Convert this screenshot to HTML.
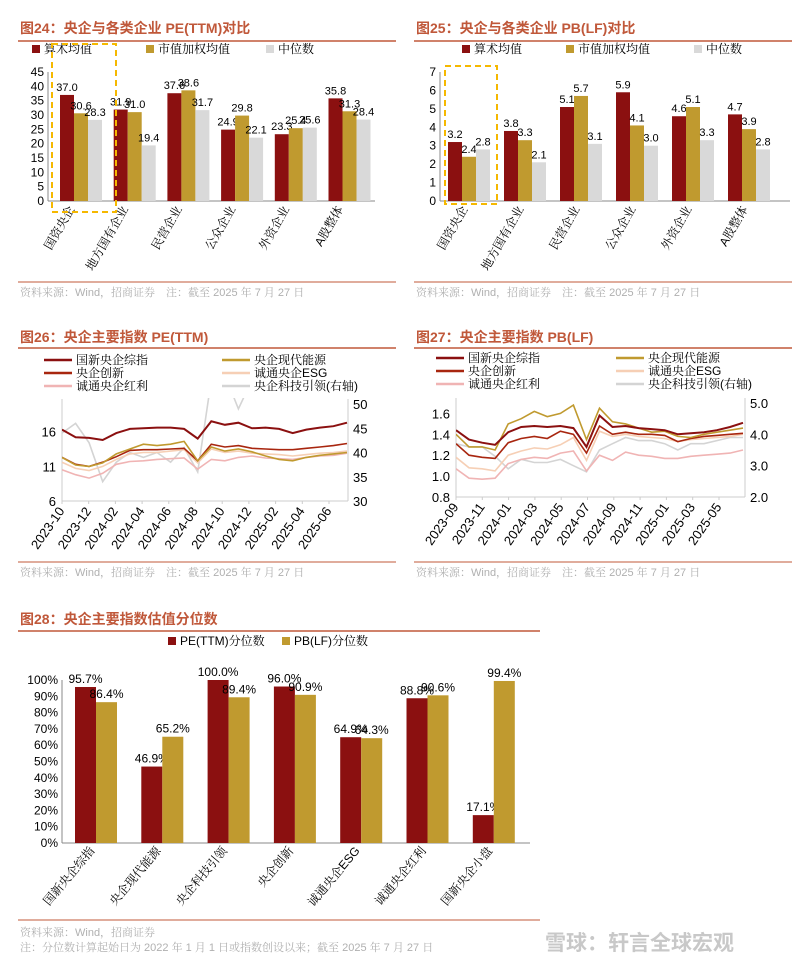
<!DOCTYPE html>
<html><head><meta charset="utf-8">
<style>
body{margin:0;background:#fff;}
svg{display:block;font-family:"Liberation Sans","Noto Sans CJK SC",sans-serif;}
.t{font-size:14px;font-weight:bold;fill:#c0583a;}
.src{font-size:11px;fill:#b0b0b0;font-family:"Liberation Sans","Noto Serif CJK SC",serif;}
.sf{font-family:"Liberation Sans","Noto Serif CJK SC",serif;}
</style></head>
<body>
<svg id="s" width="800" height="965">
<text class="t" x="20" y="33">图24：央企与各类企业 PE(TTM)对比</text>
<line x1="18" y1="41" x2="396" y2="41" stroke="#c0583a" stroke-width="1.5"/>
<text class="t" x="416" y="33">图25：央企与各类企业 PB(LF)对比</text>
<line x1="414" y1="41" x2="792" y2="41" stroke="#c0583a" stroke-width="1.5"/>
<line x1="18" y1="282" x2="396" y2="282" stroke="#c0583a"/>
<text class="src" x="20" y="296">资料来源：Wind，招商证券　注：截至 2025 年 7 月 27 日</text>
<line x1="414" y1="282" x2="792" y2="282" stroke="#c0583a"/>
<text class="src" x="416" y="296">资料来源：Wind，招商证券　注：截至 2025 年 7 月 27 日</text>
<text class="t" x="20" y="342">图26：央企主要指数 PE(TTM)</text>
<line x1="18" y1="348" x2="396" y2="348" stroke="#c0583a" stroke-width="1.5"/>
<text class="t" x="416" y="342">图27：央企主要指数 PB(LF)</text>
<line x1="414" y1="348" x2="792" y2="348" stroke="#c0583a" stroke-width="1.5"/>
<line x1="18" y1="562" x2="396" y2="562" stroke="#c0583a"/>
<text class="src" x="20" y="576">资料来源：Wind，招商证券　注：截至 2025 年 7 月 27 日</text>
<line x1="414" y1="562" x2="792" y2="562" stroke="#c0583a"/>
<text class="src" x="416" y="576">资料来源：Wind，招商证券　注：截至 2025 年 7 月 27 日</text>
<text class="t" x="20" y="624">图28：央企主要指数估值分位数</text>
<line x1="18" y1="631" x2="540" y2="631" stroke="#c0583a" stroke-width="1.5"/>
<line x1="18" y1="920" x2="540" y2="920" stroke="#c0583a"/>
<text class="src" x="20" y="936">资料来源：Wind，招商证券</text>
<text class="src" x="20" y="951">注：分位数计算起始日为 2022 年 1 月 1 日或指数创设以来；截至 2025 年 7 月 27 日</text>
<text x="545" y="950" style="font-size:21px;fill:#c8c8c8;font-weight:bold">雪球：轩言全球宏观</text>
</svg>
<script>
const peCats=["国资央企","地方国有企业","民营企业","公众企业","外资企业","A股整体"];
const peMean=[37.0,31.9,37.6,24.9,23.3,35.8];
const peWeighted=[30.6,31.0,38.6,29.8,25.4,31.3];
const peMedian=[28.3,19.4,31.7,22.1,25.6,28.4];
const peTicks=[0,5,10,15,20,25,30,35,40,45];
const pbCats=["国资央企","地方国有企业","民营企业","公众企业","外资企业","A股整体"];
const pbMean=[3.2,3.8,5.1,5.9,4.6,4.7];
const pbWeighted=[2.4,3.3,5.7,4.1,5.1,3.9];
const pbMedian=[2.8,2.1,3.1,3.0,3.3,2.8];
const pbTicks=[0,1,2,3,4,5,6,7];
const pctCats=["国新央企综指","央企现代能源","央企科技引领","央企创新","诚通央企ESG","诚通央企红利","国新央企小盘"];
const pctPE=[95.7,46.9,100.0,96.0,64.9,88.8,17.1];
const pctPB=[86.4,65.2,89.4,90.9,64.3,90.6,99.4];
const pctTicks=[0,10,20,30,40,50,60,70,80,90,100];
const lineNames=["国新央企综指","央企现代能源","央企创新","诚通央企ESG","诚通央企红利","央企科技引领(右轴)"];
const peDates=["2023-10","2023-12","2024-02","2024-04","2024-06","2024-08","2024-10","2024-12","2025-02","2025-04","2025-06"];
const peZonghe=[16.3,15.2,15.1,14.8,15.8,16.4,16.5,16.6,16.6,16.4,15.0,17.5,17.0,17.3,16.5,16.6,16.4,15.8,16.3,16.6,16.8,17.3];
const peNengyuan=[12.3,11.2,11.0,11.5,12.8,13.5,14.2,14.0,14.2,14.6,11.8,13.8,13.2,13.5,13.1,12.5,12.0,11.8,12.3,12.6,12.8,13.0];
const peChuangxin=[12.3,11.3,11.0,11.6,12.4,13.3,13.4,13.4,13.5,13.6,11.8,14.2,13.8,14.0,13.6,13.5,13.4,13.4,13.6,13.8,14.0,14.3];
const peESG=[11.6,10.7,10.4,11.0,12.0,12.8,13.0,13.0,13.2,13.4,11.5,13.5,13.0,13.2,12.9,12.8,12.7,12.5,12.7,12.9,13.0,13.2];
const peHongli=[10.5,9.8,9.3,10.0,11.3,11.7,11.8,12.0,12.1,12.2,10.6,12.0,11.8,12.3,12.5,12.2,12.1,12.0,12.3,12.5,12.6,12.9];
const peKeji=[44,46,42,34,38,40,39,40,38,41,36,55,56,49,55,56,55,54,56,57,58,58];
const peLeftTicks=[6,11,16];
const peRightTicks=[30,35,40,45,50];
const pbDates=["2023-09","2023-11","2024-01","2024-03","2024-05","2024-07","2024-09","2024-11","2025-01","2025-03","2025-05"];
const pbZonghe=[1.44,1.35,1.32,1.30,1.42,1.47,1.48,1.47,1.48,1.46,1.28,1.58,1.47,1.48,1.46,1.45,1.44,1.40,1.41,1.42,1.44,1.47,1.51];
const pbNengyuan=[1.40,1.28,1.28,1.25,1.50,1.55,1.62,1.57,1.60,1.68,1.35,1.65,1.52,1.50,1.46,1.42,1.43,1.38,1.37,1.40,1.42,1.44,1.46];
const pbChuangxin=[1.31,1.20,1.18,1.17,1.32,1.36,1.38,1.36,1.43,1.40,1.22,1.48,1.40,1.42,1.40,1.40,1.39,1.33,1.36,1.38,1.39,1.40,1.41];
const pbESG=[1.18,1.08,1.07,1.05,1.20,1.24,1.27,1.26,1.30,1.37,1.15,1.43,1.38,1.40,1.38,1.37,1.36,1.33,1.35,1.36,1.37,1.38,1.40];
const pbHongli=[1.07,0.98,0.97,0.98,1.12,1.16,1.18,1.17,1.22,1.24,1.05,1.20,1.15,1.23,1.20,1.19,1.17,1.17,1.19,1.20,1.21,1.22,1.25];
const pbKeji=[3.7,3.6,3.6,3.3,2.9,3.2,3.1,3.1,3.2,3.0,2.8,3.5,3.7,3.9,3.8,3.8,3.7,3.5,3.7,3.7,3.8,3.9,3.9];
const pbLeftTicks=[0.8,1.0,1.2,1.4,1.6];
const pbRightTicks=[2.0,3.0,4.0,5.0];

const NS="http://www.w3.org/2000/svg";const S=document.getElementById('s');
function mk(tag,at,txt){const e=document.createElementNS(NS,tag);for(const k in at)e.setAttribute(k,at[k]);if(txt!==undefined)e.textContent=txt;S.appendChild(e);return e;}
const RED="#8b1010",GOLD="#c09a2f",GRAY="#d9d9d9";

function legendBox(x,y,c,label,nm){
 const r=mk('rect',{x:x,y:y-8,width:8,height:8,fill:c});
 
 
 const t=mk('text',{x:x+12,y:y,'font-size':12,'class':'sf'},label);
 
 
}

function barChart(o){
 const y=v=>o.y0-(v-o.vmin)*o.scale;
 mk('line',{x1:o.x0,y1:o.y0,x2:o.x0,y2:y(o.ticks[o.ticks.length-1]),stroke:"#888"});
 mk('line',{x1:o.x0,y1:o.y0,x2:o.x1,y2:o.y0,stroke:"#888"});
 o.ticks.forEach(t=>{const e=mk('text',{x:o.x0-4,y:y(t)+4,'text-anchor':'end','font-size':o.tf||12},o.fmt(t));
  
  });
 o.cats.forEach((c,i)=>{
  const gx=o.x0+o.gw*i+o.off;
  o.series.forEach((s,j)=>{
   const v=s.vals[i];const bx=gx+j*o.bw;
   const r=mk('rect',{x:bx,y:y(v),width:o.bw,height:o.y0-y(v),fill:s.c});
   
   
   const t=mk('text',{x:bx+o.bw/2,y:y(v)-4,'text-anchor':'middle','font-size':o.lf||11},s.lab(v));
   
   
  });
  const cx=o.x0+o.gw*i+o.gw/2;
  const t=mk('text',{x:cx,y:o.y0+8,'text-anchor':'end','font-size':12,'class':'sf',transform:`rotate(${o.rot} ${cx} ${o.y0+8})`},c);
  
  
 });
}
barChart({x0:48,x1:375,y0:201,vmin:0,scale:129/45,ticks:peTicks,fmt:t=>t,cats:peCats,gw:53.7,off:12,bw:14,rot:-60,
 series:[{vals:peMean,c:RED,n:'mean',lab:v=>v.toFixed(1)},{vals:peWeighted,c:GOLD,n:'weighted',lab:v=>v.toFixed(1)},{vals:peMedian,c:GRAY,n:'median',lab:v=>v.toFixed(1)}]});
barChart({x0:440,x1:790,y0:201,vmin:0,scale:129/7,ticks:pbTicks,fmt:t=>t,cats:pbCats,gw:56,off:8,bw:14,rot:-60,
 series:[{vals:pbMean,c:RED,n:'mean',lab:v=>v.toFixed(1)},{vals:pbWeighted,c:GOLD,n:'weighted',lab:v=>v.toFixed(1)},{vals:pbMedian,c:GRAY,n:'median',lab:v=>v.toFixed(1)}]});
barChart({x0:62,x1:530,y0:843,vmin:0,scale:163/100,ticks:pctTicks,fmt:t=>t+'%',cats:pctCats,gw:66.3,off:13,bw:21,rot:-50,lf:12,
 series:[{vals:pctPE,c:RED,n:'pe-pct',lab:v=>v.toFixed(1)+'%'},{vals:pctPB,c:GOLD,n:'pb-pct',lab:v=>v.toFixed(1)+'%'}]});
legendBox(32,53,RED,"算术均值","legend-mean");legendBox(146,53,GOLD,"市值加权均值","legend-weighted");legendBox(266,53,GRAY,"中位数","legend-median");
legendBox(462,53,RED,"算术均值","legend-mean-pb");legendBox(566,53,GOLD,"市值加权均值","legend-weighted-pb");legendBox(694,53,GRAY,"中位数","legend-median-pb");
legendBox(168,645,RED,"PE(TTM)分位数","legend-pe-pct");legendBox(282,645,GOLD,"PB(LF)分位数","legend-pb-pct");
const hb=mk('rect',{x:52,y:44,width:64,height:168,fill:'none',stroke:'#f5b800','stroke-width':2,'stroke-dasharray':'6,4'});


const hb2=mk('rect',{x:445,y:66,width:52,height:138,fill:'none',stroke:'#f5b800','stroke-width':2,'stroke-dasharray':'6,4'});



const LC=["#8b1010",GOLD,"#a8260f","#f6cfb5","#f0b4b4","#d4d4d4"];
function lineChart(o){
 const yl=v=>o.y0-(v-o.lmin)/(o.lmax-o.lmin)*(o.y0-o.ytop);
 const yr=v=>o.y0-(v-o.rmin)/(o.rmax-o.rmin)*(o.y0-o.ytop);
 const n=o.series[0].length;
 const x=i=>o.x0+(o.xEnd-o.x0)*i/(n-1);
 mk('line',{x1:o.x0,y1:o.ytop-5,x2:o.x0,y2:o.y0,stroke:'#ccc'});
 mk('line',{x1:o.x1,y1:o.ytop-5,x2:o.x1,y2:o.y0,stroke:'#ccc'});
 mk('line',{x1:o.x0,y1:o.y0,x2:o.x1,y2:o.y0,stroke:'#ccc'});
 o.lt.forEach(t=>{const e=mk('text',{x:o.x0-6,y:yl(t)+5,'text-anchor':'end','font-size':13},o.lf(t));
  
  });
 o.rt.forEach(t=>{const e=mk('text',{x:o.x1+5,y:yr(t)+5,'font-size':13},o.rf(t));
  
  });
 o.dates.forEach((d,k)=>{const tx=o.x0+k*o.dstep;
  mk('line',{x1:tx,y1:o.y0,x2:tx,y2:o.y0+3,stroke:'#ccc'});
  const e=mk('text',{x:tx+3,y:o.y0+10,'text-anchor':'end','font-size':13,transform:`rotate(-55 ${tx+3} ${o.y0+10})`},d);
  
  });
 const cid='clip'+o.id;
 const cp=mk('clipPath',{id:cid});const cr=document.createElementNS(NS,'rect');
 cr.setAttribute('x',o.x0);cr.setAttribute('y',o.ytop-6);cr.setAttribute('width',o.x1-o.x0);cr.setAttribute('height',o.y0-o.ytop+6);cp.appendChild(cr);
 [5,4,3,2,1,0].forEach(j=>{const s=o.series[j];const f=j==5?yr:yl;
  const d=s.map((v,i)=>(i?'L':'M')+x(i).toFixed(1)+','+f(v).toFixed(1)).join('');
  const p=mk('path',{d:d,fill:'none',stroke:LC[j],'stroke-width':j==0?2:1.6,'clip-path':`url(#${cid})`});
  
  
 });
 lineNames.forEach((nm,j)=>{const col=j%2, row=Math.floor(j/2);
  const lx=o.legX[col], ly=o.legY+row*13;
  mk('line',{x1:lx,y1:ly-4,x2:lx+28,y2:ly-4,stroke:LC[j],'stroke-width':2.5});
  const e=mk('text',{x:lx+32,y:ly,'font-size':12,'class':'sf'},nm);
  
  });
}
lineChart({id:'pe',x0:62,x1:348,xEnd:347,y0:501,ytop:404,lmin:6,lmax:20,rmin:30,rmax:50,lt:peLeftTicks,rt:peRightTicks,lf:t=>t,rf:t=>t,
 dates:peDates,dstep:26.7,series:[peZonghe,peNengyuan,peChuangxin,peESG,peHongli,peKeji],legX:[44,222],legY:364});
lineChart({id:'pb',x0:456,x1:745,xEnd:743,y0:497,ytop:403,lmin:0.8,lmax:1.7,rmin:2,rmax:5,lt:pbLeftTicks,rt:pbRightTicks,lf:t=>t.toFixed(1),rf:t=>t.toFixed(1),
 dates:pbDates,dstep:26.3,series:[pbZonghe,pbNengyuan,pbChuangxin,pbESG,pbHongli,pbKeji],legX:[436,616],legY:362});
</script>
</body></html>
